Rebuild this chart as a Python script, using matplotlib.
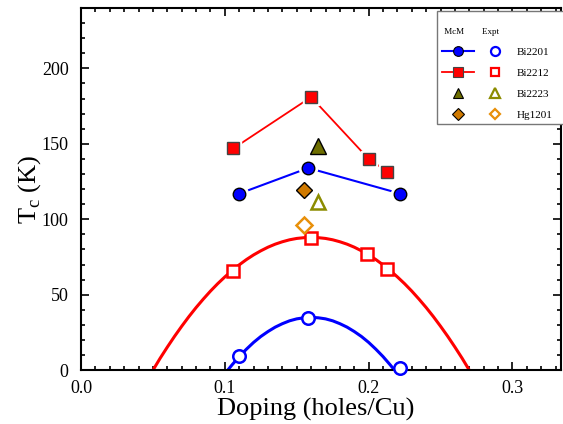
import matplotlib
matplotlib.use("Agg")
import matplotlib.pyplot as plt
from matplotlib.lines import Line2D
from matplotlib.legend_handler import HandlerTuple
from matplotlib.ticker import MultipleLocator

plt.rcParams['font.family'] = ['Liberation Serif', 'DejaVu Serif']
plt.rcParams['mathtext.fontset'] = 'custom'
plt.rcParams['mathtext.rm'] = 'Liberation Serif'

# --- data ---
# McM calculated Tc
bi2201_mcm_p = [0.110, 0.158, 0.222]
bi2201_mcm_tc = [117, 134, 117]
bi2212_mcm_p = [0.106, 0.160, 0.200, 0.213]
bi2212_mcm_tc = [147, 181, 140, 131.5]
bi2223_mcm_p = [0.165]
bi2223_mcm_tc = [148.5]
hg1201_mcm_p = [0.155]
hg1201_mcm_tc = [119.5]

# experimental Tc
bi2201_exp_p = [0.110, 0.158, 0.222]
bi2201_exp_tc = [9.5, 34.8, 1.3]
bi2212_exp_p = [0.106, 0.160, 0.199, 0.213]
bi2212_exp_tc = [66, 87.8, 77, 66.8]
bi2223_exp_p = [0.165]
bi2223_exp_tc = [111.5]
hg1201_exp_p = [0.155]
hg1201_exp_tc = [96.3]

# dome curves
bi2212_dome_p = [0.050, 0.055, 0.060, 0.065, 0.070, 0.075, 0.080, 0.085, 0.090, 0.095,
                 0.100, 0.105, 0.110, 0.115, 0.120, 0.125, 0.130, 0.135, 0.140, 0.145,
                 0.150, 0.155, 0.160, 0.165, 0.170, 0.175, 0.180, 0.185, 0.190, 0.195,
                 0.200, 0.205, 0.210, 0.215, 0.220, 0.225, 0.230, 0.235, 0.240, 0.245,
                 0.250, 0.255, 0.260, 0.265, 0.270]
bi2212_dome_tc = [0.0, 7.9, 15.3, 22.4, 29.1, 35.5, 41.5, 47.1, 52.4, 57.3,
                  61.8, 66.0, 69.8, 73.3, 76.4, 79.1, 81.5, 83.5, 85.1, 86.4,
                  87.3, 87.8, 88.0, 87.8, 87.3, 86.4, 85.1, 83.5, 81.5, 79.1,
                  76.4, 73.3, 69.8, 66.0, 61.8, 57.3, 52.4, 47.1, 41.5, 35.5,
                  29.1, 22.4, 15.3, 7.9, 0.0]
bi2201_dome_p = [0.102, 0.105, 0.110, 0.115, 0.120, 0.125, 0.130, 0.135, 0.140, 0.145,
                 0.150, 0.155, 0.160, 0.165, 0.170, 0.175, 0.180, 0.185, 0.190, 0.195,
                 0.200, 0.205, 0.210, 0.215, 0.218]
bi2201_dome_tc = [0.0, 3.5, 9.0, 13.9, 18.4, 22.3, 25.6, 28.5, 30.8, 32.7,
                  34.0, 34.7, 35.0, 34.7, 34.0, 32.7, 30.8, 28.5, 25.6, 22.3,
                  18.4, 13.9, 9.0, 3.5, 0.0]

labels = ["Bi2201", "Bi2212", "Bi2223", "Hg1201"]

blue = '#0000ff'
red = '#ff0000'
olive = '#6e6e00'
olive_e = '#8c8c00'
orange = '#d07a00'
orange_e = '#e8900a'

fig = plt.figure(figsize=(5.63, 4.24), dpi=100)
ax = fig.add_axes([0.144, 0.127, 0.853, 0.854])

# experimental domes
ax.plot(bi2212_dome_p, bi2212_dome_tc, color=red, lw=2.2, zorder=2)
ax.plot(bi2201_dome_p, bi2201_dome_tc, color=blue, lw=2.2, zorder=2)

# McM lines with small gaps around markers
ax.plot(bi2201_mcm_p, bi2201_mcm_tc, color=blue, lw=1.5, zorder=2)
ax.plot(bi2212_mcm_p, bi2212_mcm_tc, color=red, lw=1.3, zorder=2)
ax.plot(bi2201_mcm_p, bi2201_mcm_tc, ls='none', marker='o', ms=13, mfc='white', mec='white', zorder=3)
ax.plot(bi2212_mcm_p, bi2212_mcm_tc, ls='none', marker='s', ms=12, mfc='white', mec='white', zorder=3)

ax.plot(bi2201_mcm_p, bi2201_mcm_tc, ls='none', marker='o', ms=9, mfc=blue, mec='black', mew=1, zorder=4)
ax.plot(bi2212_mcm_p, bi2212_mcm_tc, ls='none', marker='s', ms=8.5, mfc=red, mec='#444444', mew=1, zorder=4)
ax.plot(bi2223_mcm_p, bi2223_mcm_tc, ls='none', marker='^', ms=11, mfc=olive, mec='black', mew=1, zorder=4)
ax.plot(hg1201_mcm_p, hg1201_mcm_tc, ls='none', marker='D', ms=8, mfc=orange, mec='black', mew=1, zorder=4)

ax.plot(bi2201_exp_p, bi2201_exp_tc, ls='none', marker='o', ms=9, mfc='white', mec=blue, mew=1.8, zorder=4, clip_on=False)
ax.plot(bi2212_exp_p, bi2212_exp_tc, ls='none', marker='s', ms=8.5, mfc='white', mec=red, mew=1.8, zorder=4)
ax.plot(bi2223_exp_p, bi2223_exp_tc, ls='none', marker='^', ms=10.5, mfc='white', mec=olive_e, mew=1.8, zorder=4)
ax.plot(hg1201_exp_p, hg1201_exp_tc, ls='none', marker='D', ms=8, mfc='white', mec=orange_e, mew=1.8, zorder=4)

# legend handles: McM marker (with line for the Bi compounds) + Expt marker
h_o = Line2D([], [], color=blue, lw=1.5, marker='o', ms=7, mfc=blue, mec='black', mew=0.8)
h_s = Line2D([], [], color=red, lw=1.3, marker='s', ms=6.5, mfc=red, mec='#444444', mew=0.8)
h_t = Line2D([], [], ls='none', marker='^', ms=7.5, mfc=olive, mec='black', mew=0.8)
h_d = Line2D([], [], ls='none', marker='D', ms=6, mfc=orange, mec='black', mew=0.8)
e_o = Line2D([], [], ls='none', marker='o', ms=6.5, mfc='white', mec=blue, mew=1.6)
e_s = Line2D([], [], ls='none', marker='s', ms=6, mfc='white', mec=red, mew=1.6)
e_t = Line2D([], [], ls='none', marker='^', ms=7, mfc='white', mec=olive_e, mew=1.6)
e_d = Line2D([], [], ls='none', marker='D', ms=5.5, mfc='white', mec=orange_e, mew=1.6)

leg = ax.legend([(h_o, e_o), (h_s, e_s), (h_t, e_t), (h_d, e_d)], labels,
                handler_map={tuple: HandlerTuple(ndivide=None, pad=0.5)},
                loc='upper left', bbox_to_anchor=(0.742, 0.5, 0.27, 0.493), mode='expand',
                borderaxespad=0.0,
                handlelength=6.3, handletextpad=0.5, labelspacing=1.0,
                fontsize=8, frameon=True, fancybox=False, framealpha=1,
                edgecolor='#777777', title="\n McM        Expt", title_fontsize=6.5,
                alignment='left', borderpad=0.37)
leg.get_frame().set_linewidth(1.0)
leg.get_title().set_linespacing(1.9)
leg._legend_box.sep = 8

ax.set_xlim(0, 0.334)
ax.set_ylim(0, 240)
ax.xaxis.set_minor_locator(MultipleLocator(0.01))
ax.yaxis.set_minor_locator(MultipleLocator(10))
ax.set_xticks([0.0, 0.1, 0.2, 0.3])
ax.set_xticklabels(["0.0", "0.1", "0.2", "0.3"])
ax.set_yticks([0, 50, 100, 150, 200])
ax.tick_params(which='both', direction='in', top=True, right=True, width=1.2, labelsize=13)
ax.tick_params(which='major', length=5.5)
ax.tick_params(which='minor', length=3)
ax.tick_params(axis='x', which='major', pad=7)
ax.tick_params(axis='y', which='major', pad=9)
for s in ax.spines.values():
    s.set_linewidth(1.5)

ax.set_xlabel("Doping (holes/Cu)", fontsize=19, labelpad=0)
ax.set_ylabel(r"T$_{\mathrm{c}}$ (K)", fontsize=19)
ax.yaxis.set_label_coords(-0.08, 0.5)
ax.xaxis.set_label_coords(0.488, -0.078)

fig.savefig("out.png", dpi=100)
